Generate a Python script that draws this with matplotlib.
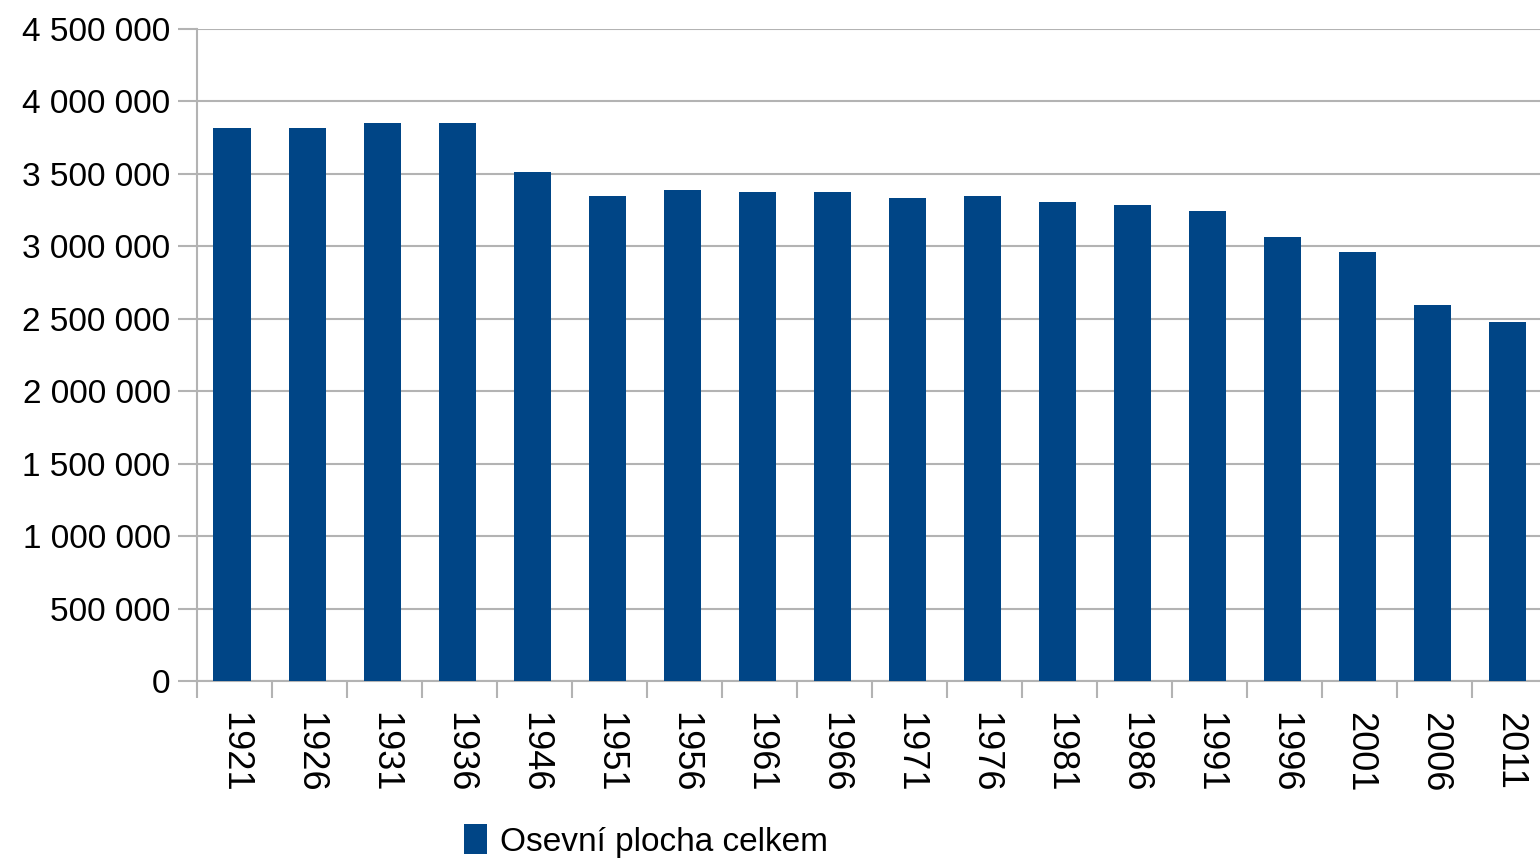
import numpy as np
import matplotlib.pyplot as plt
from matplotlib.ticker import FuncFormatter, MultipleLocator

plt.rcParams['font.family'] = ['Liberation Sans', 'DejaVu Sans']

years = ['1921', '1926', '1931', '1936', '1946', '1951', '1956', '1961', '1966',
         '1971', '1976', '1981', '1986', '1991', '1996', '2001', '2006', '2011']
osevni_plocha = [3820000, 3820000, 3852000, 3852000, 3512000, 3348000, 3390000,
                 3376000, 3377000, 3334000, 3346000, 3303000, 3288000, 3242000,
                 3066000, 2962000, 2595000, 2481000]
series_label = 'Osevní plocha celkem'

bar_color = '#004586'
grid_color = '#b3b3b3'

fig = plt.figure(figsize=(15.4, 8.65), dpi=100)
ax = fig.add_axes([197 / 1540, 184 / 865, 1350 / 1540, 652 / 865])

ind = np.arange(len(years))
ax.bar(ind - 0.03, osevni_plocha, 0.5, color=bar_color, label=series_label, zorder=3)

ax.set_xlim(-0.5, len(years) - 0.5)
ax.set_ylim(0, 4500000)
ax.yaxis.set_major_locator(MultipleLocator(500000))
ax.yaxis.set_major_formatter(FuncFormatter(lambda v, p: '{:,.0f}'.format(v).replace(',', ' ')))

ax.set_xticks(ind)
ax.set_xticklabels(years, rotation=270, fontsize=26)
ax.set_xticks(np.arange(-0.5, len(years)), minor=True)
ax.tick_params(axis='x', which='major', length=0, pad=22)
ax.tick_params(axis='x', which='minor', length=12, width=1.5, color=grid_color)
ax.tick_params(axis='y', labelsize=24, length=14, width=1.5, color=grid_color, pad=5)

ax.grid(axis='y', color=grid_color, linewidth=1.5, zorder=0)
for side in ['top', 'right']:
    ax.spines[side].set_visible(False)
for side in ['left', 'bottom']:
    ax.spines[side].set_color(grid_color)
    ax.spines[side].set_linewidth(1.5)

fig.legend(loc='center', bbox_to_anchor=(646 / 1540, 24 / 865), frameon=False,
           fontsize=24, handlelength=0.7, handleheight=1.0, handletextpad=0.4,
           borderaxespad=0)

fig.savefig('out.png', dpi=100)
